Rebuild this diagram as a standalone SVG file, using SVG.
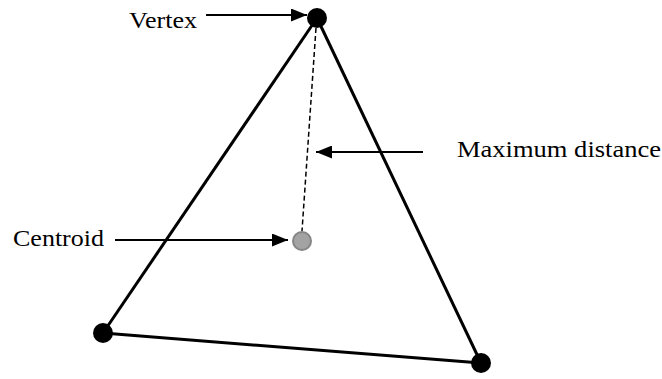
<svg xmlns="http://www.w3.org/2000/svg" width="662" height="379" viewBox="0 0 662 379">
<style>
.edge{stroke:#000;stroke-width:3;fill:none}
.arr{stroke:#000;stroke-width:2;fill:none}
.lbl{font-family:'Liberation Serif',Tinos,'Nimbus Roman','Times New Roman',Times,serif;font-size:23px;fill:#000}
.v{fill:#000}
</style>
<defs>
<marker id="ah" markerWidth="16" markerHeight="13" refX="16" refY="6.5" orient="auto" markerUnits="userSpaceOnUse">
<path d="M0,0 L16,6.5 L0,13 Z" fill="#000"/>
</marker>
</defs>
<rect width="662" height="379" fill="#fff"/>
<g id="connectors">
<line class="edge" x1="317" y1="18" x2="103" y2="333"/>
<line class="edge" x1="317" y1="18" x2="481" y2="363"/>
<line class="edge" x1="103" y1="333" x2="481" y2="363"/>
<line x1="316" y1="28" x2="302" y2="231" stroke="#000" stroke-width="1.5" stroke-dasharray="5,3"/>
<line class="arr" x1="206" y1="15" x2="307" y2="15" marker-end="url(#ah)"/>
<line class="arr" x1="115" y1="240" x2="288" y2="240" marker-end="url(#ah)"/>
<line class="arr" x1="423" y1="152" x2="316" y2="152" marker-end="url(#ah)"/>
</g>
<g id="vertex-top"><circle class="v" cx="317" cy="18" r="10"/></g>
<g id="vertex-left"><circle class="v" cx="103" cy="333" r="10"/></g>
<g id="vertex-right"><circle class="v" cx="481" cy="363" r="10"/></g>
<g id="centroid"><circle cx="302" cy="241" r="9" fill="#a3a3a3" stroke="#858585" stroke-width="2"/></g>
<g id="label-vertex"><text class="lbl" x="129" y="28" textLength="68" lengthAdjust="spacingAndGlyphs">Vertex</text></g>
<g id="label-centroid"><text class="lbl" x="13" y="246" textLength="91" lengthAdjust="spacingAndGlyphs">Centroid</text></g>
<g id="label-max"><text class="lbl" x="457" y="157" textLength="204" lengthAdjust="spacingAndGlyphs">Maximum distance</text></g>
</svg>
